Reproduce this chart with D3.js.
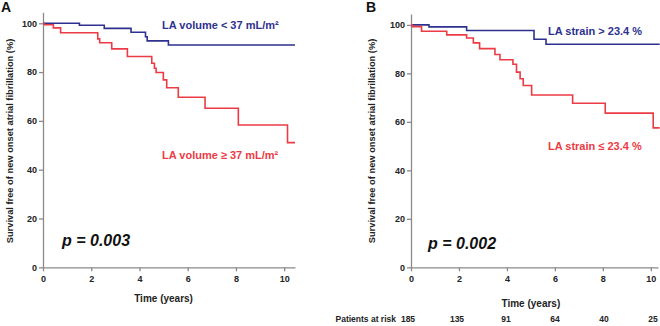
<!DOCTYPE html>
<html>
<head>
<meta charset="UTF-8">
<title>Survival free of new onset AF</title>
<script src="https://d3js.org/d3.v7.min.js"></script>
<style>
  body { margin: 0; background: #fff; }
  svg { display: block; font-family: "Liberation Sans", Arial, sans-serif; font-weight: bold; }
  .axis path, .axis line { stroke: #8a8a8a; stroke-width: 1.3; }
  .axis text { font-size: 9px; font-weight: bold; fill: #222; font-family: "Liberation Sans", Arial, sans-serif; }
  .km { fill: none; stroke-width: 1.6; }
</style>
</head>
<body>
<svg id="chart" width="660" height="326"></svg>
<script>
// ticks
const timeTicks = [0, 2, 4, 6, 8, 10];
const survTicks = [0, 20, 40, 60, 80, 100];

// panel A: LA volume (time in years, survival %)
const volLow = [[0,100],[1.51,99.2],[2.54,97.9],[3.65,96.3],[4.25,94.5],[4.32,92.8],[5.2,91.1],[10.45,91.1]];
const volHigh = [[0,100],[0.05,99.4],[0.43,98.1],[0.73,96.1],[2.27,93.6],[2.35,92.0],[2.85,89.5],[3.5,86.4],
                 [4.51,83.6],[4.62,81.6],[4.69,79.8],[4.99,76.8],[5.13,73.6],[5.61,69.7],[6.72,65.2],
                 [8.1,58.3],[10.14,51.1],[10.45,51.1]];

// panel B: LA strain
const strainHigh = [[0,100],[0.75,99.2],[2.32,97.7],[5.13,94.1],[5.63,92.0],[10.37,92.0]];
const strainLow = [[0,100],[0.05,99.3],[0.44,97.4],[1.49,95.9],[2.32,94.6],[2.6,92.6],[2.86,90.2],[3.5,87.8],
                   [3.71,85.6],[4.25,83.8],[4.4,80.5],[4.55,77.8],[4.68,75.0],[5.03,71.1],[6.74,67.7],
                   [8.1,63.6],[10.1,57.5],[10.37,57.5]];

// patients at risk (panel B)
const riskTimes = [0, 2, 4, 6, 8, 10];
const riskCounts = [185, 135, 91, 64, 40, 25];

const blue = "#2e318f", red = "#ec3b45";
const svg = d3.select("#chart");

function panel(opt) {
  const x = d3.scaleLinear().domain([0, opt.xMax]).range(opt.xr);
  const y = d3.scaleLinear().domain([0, 104.5]).range(opt.yr);
  const g = svg.append("g");

  g.append("g").attr("class", "axis")
    .attr("transform", `translate(0,${opt.yr[0]})`)
    .call(d3.axisBottom(x).tickValues(timeTicks).tickSize(4).tickSizeOuter(0).tickPadding(4));
  g.append("g").attr("class", "axis")
    .attr("transform", `translate(${opt.xr[0]},0)`)
    .call(d3.axisLeft(y).tickValues(survTicks).tickSize(4).tickSizeOuter(0).tickPadding(2));

  const line = d3.line().x(d => x(d[0])).y(d => y(d[1])).curve(d3.curveStepAfter);
  g.append("path").attr("class", "km").attr("stroke", blue).attr("d", line(opt.top));
  g.append("path").attr("class", "km").attr("stroke", red).attr("d", line(opt.bottom));

  // y title
  g.append("text")
    .attr("transform", `translate(${opt.ytx},141) rotate(-90)`)
    .attr("text-anchor", "middle").attr("font-size", 9.3).attr("fill", "#222")
    .text("Survival free of new onset atrial fibrillation (%)");
  // x title
  g.append("text").attr("x", x(5)).attr("y", opt.xty)
    .attr("text-anchor", "middle").attr("font-size", 10).attr("fill", "#222")
    .text("Time (years)");
  // panel letter
  g.append("text").attr("x", opt.lx).attr("y", 12).attr("font-size", 14).attr("fill", "#111").text(opt.letter);
  // legend labels
  g.append("text").attr("x", opt.labX).attr("y", opt.topY).attr("font-size", 11).attr("fill", blue).text(opt.topLabel);
  g.append("text").attr("x", opt.labX).attr("y", opt.botY).attr("font-size", 11).attr("fill", red).text(opt.botLabel);
  // p value
  g.append("text").attr("x", opt.px).attr("y", opt.py).attr("font-size", 16).attr("font-style", "italic")
    .attr("fill", "#111").text(opt.p);
  return x;
}

panel({ letter: "A", lx: 1, xMax: 10.45, xr: [43, 295], yr: [267.3, 12.3], top: volLow, bottom: volHigh,
  ytx: 13, xty: 302, labX: 162, topY: 29, botY: 159, topLabel: "LA volume < 37 mL/m²", botLabel: "LA volume ≥ 37 mL/m²",
  px: 62, py: 246, p: "p = 0.003" });

panel({ letter: "B", lx: 366, xMax: 10.3, xr: [411, 658], yr: [267.3, 14], top: strainHigh, bottom: strainLow,
  ytx: 375, xty: 307, labX: 548, topY: 35, botY: 150, topLabel: "LA strain > 23.4 %", botLabel: "LA strain ≤ 23.4 %",
  px: 428, py: 249, p: "p = 0.002" });

// patients at risk row
const riskX = d3.scaleLinear().domain([0, 10]).range([408, 653]);
svg.append("text").attr("x", 396).attr("y", 322).attr("text-anchor", "end")
  .attr("font-size", 8.5).attr("fill", "#222").text("Patients at risk");
svg.selectAll(".risk").data(riskCounts).enter().append("text")
  .attr("class", "risk")
  .attr("x", (d, i) => riskX(riskTimes[i])).attr("y", 322)
  .attr("text-anchor", "middle").attr("font-size", 8.5).attr("fill", "#222")
  .text(d => d);
</script>
</body>
</html>
